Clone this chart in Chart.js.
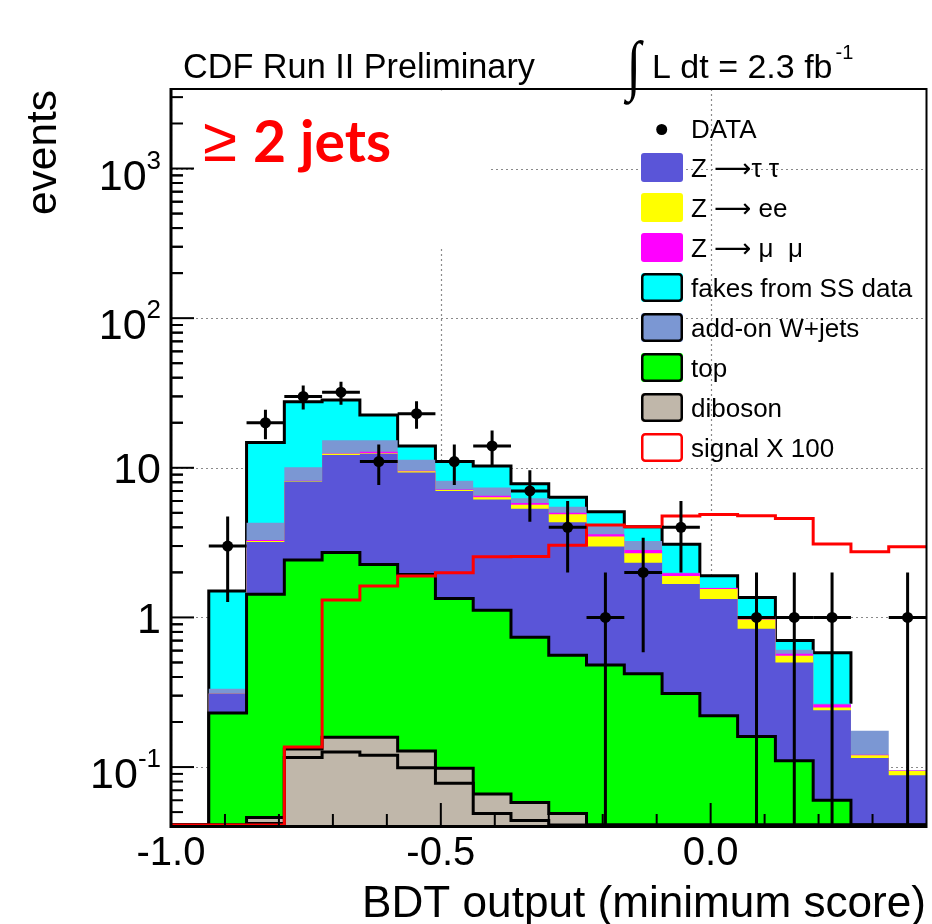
<!DOCTYPE html>
<html>
<head>
<meta charset="utf-8">
<script src="https://cdn.jsdelivr.net/npm/chart.js@4.4.1/dist/chart.umd.min.js"></script>
<style>
  html, body { margin: 0; padding: 0; background: #ffffff; }
  #wrap { width: 932px; height: 924px; }
  canvas { display: block; }
</style>
</head>
<body>
<div id="wrap"><canvas id="bdt" width="932" height="924"></canvas></div>
<script>
// Bin edges of the BDT output histogram (20 bins of width 0.07)
const binEdges = [-1.00, -0.93, -0.86, -0.79, -0.72, -0.65, -0.58, -0.51, -0.44, -0.37,
                  -0.30, -0.23, -0.16, -0.09, -0.02, 0.05, 0.12, 0.19, 0.26, 0.33, 0.40];

// Observed events per bin
const dataCounts = [0, 3, 20, 30, 32, 11, 23, 11, 14, 7, 4, 1, 2, 4, 0, 1, 1, 1, 0, 1];

// Background expectations per bin (stacked bottom to top)
const dibosonA = [0, 0, 0.042, 0.116, 0.126, 0.120, 0.099, 0.078, 0.049, 0.044, 0, 0, 0, 0, 0, 0, 0, 0, 0, 0];
const dibosonB = [0, 0, 0.004, 0.016, 0.032, 0.038, 0.029, 0.020, 0.017, 0.014, 0.049, 0, 0, 0, 0, 0, 0, 0, 0, 0];
const topQuark = [0, 0.23, 1.38, 2.29, 2.56, 2.10, 1.81, 1.24, 1.05, 0.68, 0.51, 0.48, 0.42, 0.31, 0.22, 0.16, 0.11, 0.06, 0, 0];
const zTauTau  = [0, 0.08, 1.77, 5.68, 9.48, 10.14, 7.36, 5.66, 5.03, 4.59, 3.77, 2.50, 1.90, 1.36, 1.11, 0.68, 0.39, 0.18, 0.115, 0.088];
const zEE      = [0, 0, 0.05, 0.05, 0.20, 0.10, 0.20, 0.10, 0.20, 0.34, 0.56, 0.49, 0.36, 0.22, 0.22, 0.13, 0.054, 0.010, 0.005, 0.006];
const zMuMu    = [0, 0, 0.04, 0.04, 0.05, 0.30, 0.05, 0.05, 0.15, 0.14, 0.12, 0.13, 0.14, 0.08, 0.02, 0.04, 0.018, 0.012, 0.001, 0.001];
const wJets    = [0, 0.024, 1.00, 1.91, 2.85, 2.50, 1.75, 1.05, 0.90, 0.44, 0.48, 0.55, 0.42, 0.02, 0.01, 0.01, 0.036, 0.003, 0.054, 0];
const fakesSS  = [0, 1.17, 10.5, 17.5, 13.1, 7.2, 2.7, 2.8, 2.9, 1.56, 0.86, 0.94, 0.79, 1.09, 0.32, 0.34, 0.093, 0.315, 0, 0];

// Signal expectation scaled by 100
const signalX100 = [0, 0, 0, 0.136, 1.31, 1.62, 1.89, 1.99, 2.54, 2.55, 3.04, 4.14, 4.03, 4.76, 4.88, 4.78, 4.59, 3.09, 2.75, 2.97];

// Axis ticks and labels
const xMajorTicks = [-1.0, -0.5, 0.0];
const xTickLabels = ['-1.0', '-0.5', '0.0'];
const xMinorTicks = [-0.9, -0.8, -0.7, -0.6, -0.4, -0.3, -0.2, -0.1, 0.1, 0.2, 0.3];
const yTickValues = [0.1, 1, 10, 100, 1000];
const yTickBase   = ['10', '1', '10', '10', '10'];
const yTickExp    = ['-1', '', '', '2', '3'];

const Y_MIN = 0.041, Y_MAX = 3400;

const COL = {
  ztt: '#5a55d8', zee: '#ffff00', zmm: '#ff00ff', fakes: '#00ffff',
  wjets: '#7b97d3', top: '#00ff00', dib: '#c0b7aa', sig: '#ff0000'
};

const legendLabels = ['DATA', 'Z \u27f6\u03c4 \u03c4', 'Z \u27f6 ee', 'Z \u27f6 \u03bc  \u03bc',
  'fakes from SS data', 'add-on W+jets', 'top', 'diboson', 'signal X 100'];
const legendFill   = [null, COL.ztt, COL.zee, COL.zmm, COL.fakes, COL.wjets, COL.top, COL.dib, '#ffffff'];
const legendBorder = [null, null, null, null, '#000', '#000', '#000', '#000', COL.sig];

// Running sums for the stack
const addArr = (a, b) => a.map((v, i) => v + b[i]);
const cumDibA  = dibosonA.slice();
const cumDib   = addArr(cumDibA, dibosonB);
const cumTop   = addArr(cumDib, topQuark);
const cumZtt   = addArr(cumTop, zTauTau);
const cumZee   = addArr(cumZtt, zEE);
const cumZmm   = addArr(cumZee, zMuMu);
const cumW     = addArr(cumZmm, wJets);
const cumTotal = addArr(cumW, fakesSS);

// Empty bins sit on the bottom of the log axis
const floorLog = v => (v > Y_MIN ? v : Y_MIN);

// Histogram outline as step points: left edge of every bin plus the closing edge
function steps(vals, lastBin, closeTo) {
  const n = lastBin === undefined ? vals.length : lastBin + 1;
  const pts = [];
  for (let i = 0; i < n; i++) pts.push({ x: binEdges[i], y: floorLog(vals[i]) });
  pts.push({ x: binEdges[n], y: floorLog(closeTo === undefined ? vals[n - 1] : closeTo) });
  return pts;
}

// The fakes layer outline stops after its last non-empty bin
let lastFakes = 0;
fakesSS.forEach((v, i) => { if (v > 0) lastFakes = i; });

function histDs(label, pts, fill, border, width) {
  return {
    type: 'line', label, data: pts, stepped: true,
    fill: fill ? 'start' : false,
    backgroundColor: fill || 'rgba(0,0,0,0)',
    borderColor: border || 'rgba(0,0,0,0)',
    borderWidth: width || 1,
    pointRadius: 0, pointHoverRadius: 0, tension: 0,
    borderJoinStyle: 'miter', borderCapStyle: 'butt'
  };
}

const dataPts = [];
dataCounts.forEach((n, i) => {
  if (n > 0) dataPts.push({ x: (binEdges[i] + binEdges[i + 1]) / 2, y: n });
});

const datasets = [
  { type: 'scatter', label: 'DATA', data: dataPts, pointRadius: 5.5, pointHoverRadius: 5.5,
    pointBackgroundColor: '#000', pointBorderColor: '#000', pointBorderWidth: 0, showLine: false },
  histDs('signal X 100', steps(signalX100), null, COL.sig, 3),
  histDs('diboson A', steps(cumDibA), COL.dib, '#000', 3),
  histDs('diboson', steps(cumDib), COL.dib, '#000', 3),
  histDs('top', steps(cumTop), COL.top, '#000', 3),
  histDs('Z tautau', steps(cumZtt), COL.ztt, null, 1),
  histDs('Z ee', steps(cumZee), COL.zee, null, 1),
  histDs('Z mumu', steps(cumZmm), COL.zmm, null, 1),
  histDs('add-on W+jets', steps(cumW), COL.wjets, null, 1),
  histDs('fakes from SS data', steps(cumTotal, lastFakes, cumW[lastFakes]), COL.fakes, '#000', 3)
];

function fitSize(ctx, text, font, width) {
  ctx.font = font.replace('{s}', '100px');
  return 100 * width / ctx.measureText(text).width;
}

const SANS = '"Liberation Sans", Arial, Helvetica, sans-serif';
const SANS_SYM = '"Liberation Sans", "DejaVu Sans", sans-serif';

const rootFrame = {
  id: 'rootFrame',
  beforeDatasetsDraw(chart) {
    const { ctx, chartArea: a, scales: { x, y } } = chart;
    ctx.save();
    // dotted grid at the major ticks
    ctx.strokeStyle = '#8a8a8a';
    ctx.lineWidth = 1.2;
    ctx.setLineDash([2, 3]);
    xMajorTicks.forEach(v => {
      const px = Math.round(x.getPixelForValue(v)) + 0.5;
      ctx.beginPath(); ctx.moveTo(px, a.top); ctx.lineTo(px, a.bottom); ctx.stroke();
    });
    yTickValues.forEach(v => {
      const py = Math.round(y.getPixelForValue(v)) + 0.5;
      ctx.beginPath(); ctx.moveTo(a.left, py); ctx.lineTo(a.right, py); ctx.stroke();
    });
    ctx.setLineDash([]);
    // white panel behind the jet-multiplicity tag
    ctx.fillStyle = '#ffffff';
    ctx.fillRect(194, a.top + 1.5, 296, 157);
    ctx.restore();
  },
  afterDatasetsDraw(chart) {
    const { ctx, chartArea: a, scales: { x, y } } = chart;
    ctx.save();
    ctx.strokeStyle = '#000';
    // data error bars
    ctx.lineWidth = 3;
    dataCounts.forEach((n, i) => {
      if (n <= 0) return;
      const cx = x.getPixelForValue((binEdges[i] + binEdges[i + 1]) / 2);
      const x0 = x.getPixelForValue(binEdges[i]);
      const x1 = x.getPixelForValue(binEdges[i + 1]);
      const cy = y.getPixelForValue(n);
      const err = Math.sqrt(n);
      const hi = y.getPixelForValue(n + err);
      const lo = n - err > Y_MIN ? y.getPixelForValue(n - err) : a.bottom;
      ctx.beginPath();
      ctx.moveTo(cx, Math.max(hi, a.top)); ctx.lineTo(cx, Math.min(lo, a.bottom));
      ctx.moveTo(x0, cy); ctx.lineTo(x1, cy);
      ctx.stroke();
    });
    // frame
    ctx.lineWidth = 2;
    ctx.beginPath();
    ctx.moveTo(a.left, a.top); ctx.lineTo(a.right, a.top); ctx.lineTo(a.right, a.bottom);
    ctx.stroke();
    ctx.lineWidth = 3;
    ctx.beginPath();
    ctx.moveTo(a.left, a.top - 1); ctx.lineTo(a.left, a.bottom + 1.5);
    ctx.lineTo(a.right + 1, a.bottom + 1.5);
    ctx.stroke();
    // x ticks
    ctx.lineWidth = 2;
    const xt = (v, len) => {
      const px = x.getPixelForValue(v);
      ctx.beginPath(); ctx.moveTo(px, a.bottom); ctx.lineTo(px, a.bottom - len); ctx.stroke();
    };
    xMajorTicks.forEach(v => xt(v, 22));
    xMinorTicks.forEach(v => xt(v, 11));
    // y ticks (decades and 2..9 subdivisions)
    const yt = (v, len) => {
      const py = y.getPixelForValue(v);
      if (py < a.top - 0.5 || py > a.bottom + 0.5) return;
      ctx.beginPath(); ctx.moveTo(a.left, py); ctx.lineTo(a.left + len, py); ctx.stroke();
    };
    yTickValues.forEach(v => {
      yt(v, 23);
      for (let k = 2; k <= 9; k++) { yt(v * k, 12); yt(v * k / 10, 12); }
    });
    ctx.restore();
  },
  afterDraw(chart) {
    const { ctx, chartArea: a, scales: { x, y } } = chart;
    ctx.save();
    ctx.fillStyle = '#000';
    ctx.textBaseline = 'alphabetic';

    // y tick labels
    yTickValues.forEach((v, i) => {
      const py = y.getPixelForValue(v);
      const base = yTickBase[i], ex = yTickExp[i];
      ctx.font = '26px ' + SANS;
      const we = ex ? ctx.measureText(ex).width : 0;
      ctx.font = '43px ' + SANS;
      const wb = ctx.measureText(base).width;
      const right = 161;
      const bl = py + (ex ? 21 : 15.5);
      ctx.textAlign = 'left';
      ctx.fillText(base, right - we - wb, bl);
      if (ex) {
        ctx.font = '26px ' + SANS;
        ctx.fillText(ex, right - we, bl - 21);
      }
    });

    // x tick labels
    ctx.font = '40px ' + SANS;
    ctx.textAlign = 'center';
    xMajorTicks.forEach((v, i) => ctx.fillText(xTickLabels[i], x.getPixelForValue(v), 865));

    // axis titles
    const xTitle = 'BDT output (minimum score)';
    ctx.font = fitSize(ctx, xTitle, '{s} ' + SANS, 564).toFixed(2) + 'px ' + SANS;
    ctx.textAlign = 'right';
    ctx.fillText(xTitle, 926, 917);

    const yTitle = 'events';
    ctx.save();
    ctx.translate(56, 90);
    ctx.rotate(-Math.PI / 2);
    ctx.font = fitSize(ctx, yTitle, '{s} ' + SANS, 125).toFixed(2) + 'px ' + SANS;
    ctx.textAlign = 'right';
    ctx.fillText(yTitle, 0, 0);
    ctx.restore();

    // header
    const hd = 'CDF Run II Preliminary';
    ctx.font = fitSize(ctx, hd, '{s} ' + SANS, 352).toFixed(2) + 'px ' + SANS;
    ctx.textAlign = 'left';
    ctx.fillText(hd, 183, 78);

    // luminosity: a tall thin integral sign followed by the value
    ctx.font = '64px "Liberation Serif", serif';
    const m = ctx.measureText('\u222b');
    const ih = m.actualBoundingBoxAscent + m.actualBoundingBoxDescent;
    const isz = 64 * 66 / ih;
    ctx.font = isz.toFixed(2) + 'px "Liberation Serif", serif';
    const m2 = ctx.measureText('\u222b');
    ctx.save();
    ctx.translate(634, 105 - m2.actualBoundingBoxDescent);
    ctx.scale(0.8, 1);
    ctx.textAlign = 'center';
    ctx.fillText('\u222b', 0, 0);
    ctx.restore();
    ctx.textAlign = 'left';
    ctx.font = '34px ' + SANS;
    const lum = 'L dt = 2.3 fb';
    ctx.fillText(lum, 652, 78);
    const lw = ctx.measureText(lum).width;
    ctx.font = '20px ' + SANS;
    ctx.fillText('-1', 652 + lw + 3, 59);

    // jet multiplicity tag
    ctx.fillStyle = '#ff0000';
    const ge = '\u2265';
    ctx.font = fitSize(ctx, ge, '{s} ' + SANS, 34).toFixed(2) + 'px ' + SANS;
    ctx.fillText(ge, 203, 161);
    const jt = '2 jets';
    const jFam = 'Lato, "Open Sans", sans-serif';
    ctx.font = 'bold ' + fitSize(ctx, jt, 'bold {s} ' + jFam, 138).toFixed(2) + 'px ' + jFam;
    ctx.fillText(jt, 253, 161.5);

    // legend
    ctx.fillStyle = '#000';
    ctx.font = '26px ' + SANS_SYM;
    ctx.textBaseline = 'middle';
    ctx.beginPath(); ctx.arc(661.7, 129.5, 5.5, 0, Math.PI * 2); ctx.fill();
    ctx.fillText(legendLabels[0], 691, 131);
    for (let i = 1; i < legendLabels.length; i++) {
      const top = 153 + (i - 1) * 40;
      const bx = 641, bw = 42, bh = 29;
      ctx.beginPath();
      if (ctx.roundRect) ctx.roundRect(bx, top, bw, bh, 3); else ctx.rect(bx, top, bw, bh);
      ctx.fillStyle = legendFill[i];
      ctx.fill();
      if (legendBorder[i]) {
        ctx.lineWidth = 2.5;
        ctx.strokeStyle = legendBorder[i];
        ctx.beginPath();
        if (ctx.roundRect) ctx.roundRect(bx + 1.25, top + 1.25, bw - 2.5, bh - 2.5, 3);
        else ctx.rect(bx + 1.25, top + 1.25, bw - 2.5, bh - 2.5);
        ctx.stroke();
      }
      ctx.fillStyle = '#000';
      ctx.fillText(legendLabels[i], 691, top + bh / 2 + 2);
    }
    ctx.restore();
  }
};

new Chart(document.getElementById('bdt'), {
  type: 'line',
  data: { datasets },
  options: {
    responsive: false,
    animation: false,
    devicePixelRatio: 1,
    events: [],
    layout: { padding: { left: 171, right: 4, top: 89, bottom: 99 } },
    plugins: { legend: { display: false }, tooltip: { enabled: false } },
    scales: {
      x: { type: 'linear', min: -1.0, max: 0.4, display: false },
      y: { type: 'logarithmic', min: Y_MIN, max: Y_MAX, display: false }
    }
  },
  plugins: [rootFrame]
});
</script>
</body>
</html>
